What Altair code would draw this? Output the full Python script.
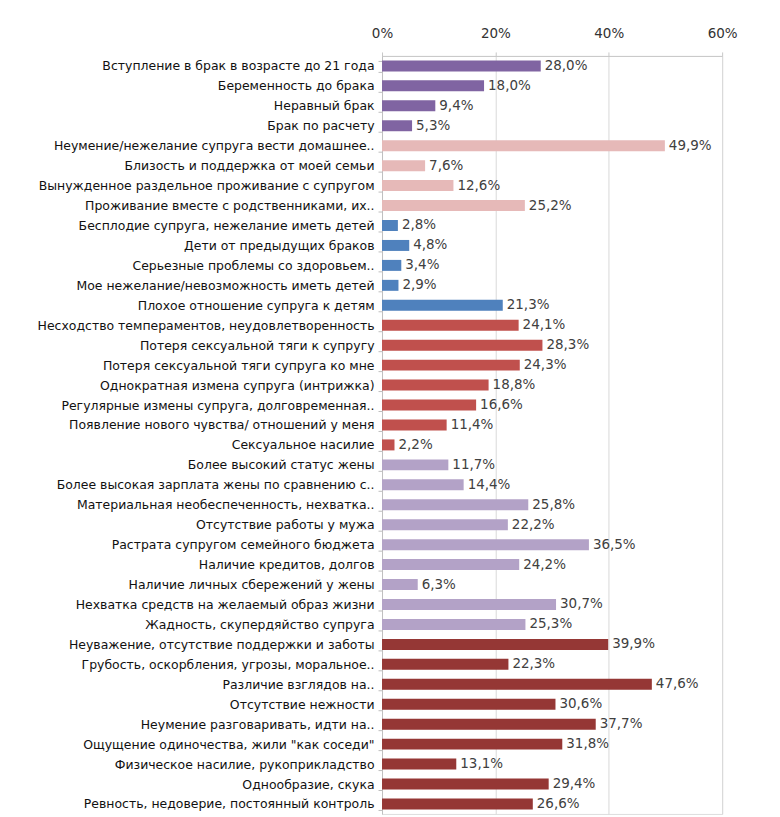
import altair as alt
import pandas as pd

categories = [
    "Вступление в брак в возрасте до 21 года",
    "Беременность до брака",
    "Неравный брак",
    "Брак по расчету",
    "Неумение/нежелание супруга вести домашнее..",
    "Близость и поддержка от моей семьи",
    "Вынужденное раздельное проживание с супругом",
    "Проживание вместе с родственниками, их..",
    "Бесплодие супруга, нежелание иметь детей",
    "Дети от предыдущих браков",
    "Серьезные проблемы со здоровьем..",
    "Мое нежелание/невозможность иметь детей",
    "Плохое отношение супруга к детям",
    "Несходство темпераментов, неудовлетворенность",
    "Потеря сексуальной тяги к супругу",
    "Потеря сексуальной тяги супруга ко мне",
    "Однократная измена супруга (интрижка)",
    "Регулярные измены супруга, долговременная..",
    "Появление нового чувства/ отношений у меня",
    "Сексуальное насилие",
    "Более высокий статус жены",
    "Более высокая зарплата жены по сравнению с..",
    "Материальная необеспеченность, нехватка..",
    "Отсутствие работы у мужа",
    "Растрата супругом семейного бюджета",
    "Наличие кредитов, долгов",
    "Наличие личных сбережений у жены",
    "Нехватка средств на желаемый образ жизни",
    "Жадность, скупердяйство супруга",
    "Неуважение, отсутствие поддержки и заботы",
    "Грубость, оскорбления, угрозы, моральное..",
    "Различие взглядов на..",
    "Отсутствие нежности",
    "Неумение разговаривать, идти на..",
    "Ощущение одиночества, жили \"как соседи\"",
    "Физическое насилие, рукоприкладство",
    "Однообразие, скука",
    "Ревность, недоверие, постоянный контроль",
]

values = [
    28.0, 18.0, 9.4, 5.3,
    49.9, 7.6, 12.6, 25.2,
    2.8, 4.8, 3.4, 2.9, 21.3,
    24.1, 28.3, 24.3, 18.8, 16.6, 11.4, 2.2,
    11.7, 14.4, 25.8, 22.2, 36.5, 24.2, 6.3, 30.7, 25.3,
    39.9, 22.3, 47.6, 30.6, 37.7, 31.8, 13.1, 29.4, 26.6,
]

groups = (
    ["g1"] * 4 + ["g2"] * 4 + ["g3"] * 5 + ["g4"] * 7 + ["g5"] * 9 + ["g6"] * 9
)

group_names = ["g1", "g2", "g3", "g4", "g5", "g6"]
group_colors = ["#8064A2", "#E6B9B8", "#4F81BD", "#C0504D", "#B3A2C7", "#953735"]

df = pd.DataFrame({
    "cat": categories,
    "val": values,
    "grp": groups,
    "lbl": [f"{v:.1f}%".replace(".", ",") for v in values],
})

FONT = "DejaVu Sans"

y_enc = alt.Y(
    "cat:N",
    sort=categories,
    scale=alt.Scale(paddingInner=0.45, paddingOuter=0.225),
    axis=alt.Axis(
        title=None,
        labelFont=FONT,
        labelFontSize=12.5,
        labelColor="#111111",
        labelPadding=4,
        labelLimit=400,
        domainColor="#bfbfbf",
        tickColor="#bfbfbf",
        tickSize=4,
        tickBand="extent",
        grid=False,
    ),
)

x_enc = alt.X(
    "val:Q",
    scale=alt.Scale(domain=[0, 60], nice=False),
    axis=alt.Axis(
        orient="top",
        title=None,
        values=[0, 20, 40, 60],
        labelExpr="datum.value + '%'",
        labelFont=FONT,
        labelFontSize=13.5,
        labelColor="#333333",
        labelPadding=11,
        labelFlush=False,
        domainColor="#c8c8c8",
        tickColor="#c8c8c8",
        tickSize=4,
        grid=True,
        gridColor="#d9d9d9",
    ),
)

bars = alt.Chart(df).mark_bar().encode(
    x=x_enc,
    y=y_enc,
    color=alt.Color(
        "grp:N",
        scale=alt.Scale(domain=group_names, range=group_colors),
        legend=None,
    ),
)

labels = alt.Chart(df).mark_text(
    align="left", baseline="middle", dx=4, font=FONT, fontSize=13.5, color="#404040"
).encode(
    x=alt.X("val:Q", scale=alt.Scale(domain=[0, 60], nice=False)),
    y=alt.Y("cat:N", sort=categories),
    text="lbl:N",
)

chart = (
    alt.layer(bars, labels)
    .properties(
        width=341,
        height=760,
        autosize=alt.AutoSizeParams(type="none"),
        padding={"left": 375, "top": 47, "right": 50, "bottom": 5},
    )
    .configure_view(stroke=None)
    .configure(background="white")
)

chart.save("out.html", embed_options={"renderer": "svg", "actions": False})
